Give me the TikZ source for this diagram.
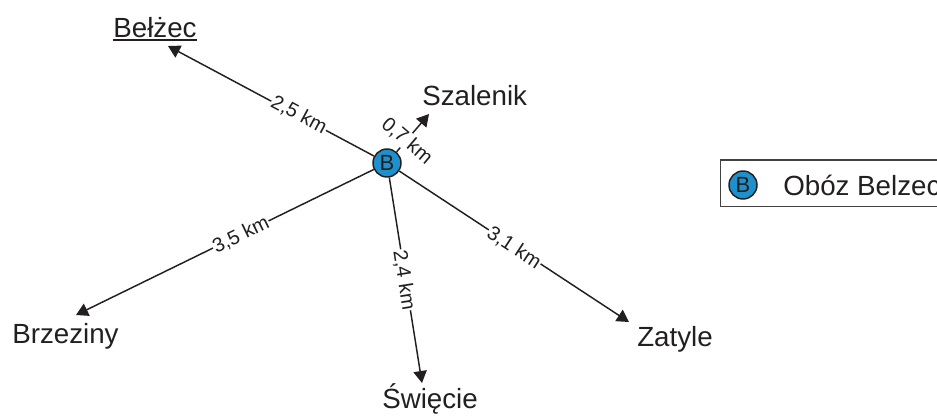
\documentclass[tikz,border=0pt]{standalone}
\usepackage{fontspec}
\setmainfont{Liberation Sans}
\usetikzlibrary{arrows.meta}
\definecolor{ink}{RGB}{35,31,32}
\definecolor{campblue}{RGB}{30,144,204}
\begin{document}
\begin{tikzpicture}[x=0.75pt,y=-0.75pt,
  place/.style={font=\fontsize{20.8}{24}\selectfont, text=ink, inner sep=0pt},
  dist/.style={font=\fontsize{15}{18}\selectfont, text=ink, fill=white, inner sep=0.6pt},
  road/.style={draw=ink, line width=1.1pt, -{Triangle[length=9pt,width=10pt]}},
  camp/.style={circle, draw=ink, line width=1.1pt, fill=campblue, minimum size=21pt, inner sep=0pt, font=\fontsize{16.5}{18}\selectfont, text=ink},
  legendbox/.style={draw=ink!85, line width=1.1pt}]
\useasboundingbox (0,0) rectangle (937,415);
% arrow tips
\coordinate (tBel) at (168,46);
\coordinate (tSza) at (429,114);
\coordinate (tBrz) at (76,315);
\coordinate (tSwi) at (422,383);
\coordinate (tZat) at (629,322);
% camp
\node[camp] (B) at (387,163) {B};
\draw[road] (B) -- (tBel);
\draw[road] (B) -- (tSza);
\draw[road] (B) -- (tBrz);
\draw[road] (B) -- (tSwi);
\draw[road] (B) -- (tZat);
% distance labels
\node[dist, rotate=-28.1] (d1) at (299,115) {2,5 km};
\node[dist, rotate=-40.6] (d2) at (407,141) {0,7 km};
\node[dist, rotate=26] (d3) at (241,235) {3,5 km};
\node[dist, rotate=-81] (d4) at (404,280) {2,4 km};
\node[dist, rotate=-33.3] (d5) at (514,248) {3,1 km};
% place names
\node[place, anchor=base] (lBel) at (155,37) {Bełżec};
\draw[ink, line width=1.1pt] ([yshift=-2.4pt]lBel.base west) -- ([yshift=-2.4pt]lBel.base east);
\node[place, anchor=base west] (lSza) at (422,105) {Szalenik};
\node[place, anchor=base west] (lBrz) at (12,343) {Brzeziny};
\node[place, anchor=base west] (lSwi) at (382,408) {Święcie};
\node[place, anchor=base west] (lZat) at (637,346) {Zatyle};
% legend
\draw[legendbox] (720.7,160) rectangle (950,206.7);
\node[camp] (legB) at (743,185) {B};
\node[place, anchor=base west] (legT) at (783,195) {Obóz Belzec};
\end{tikzpicture}
\end{document}
